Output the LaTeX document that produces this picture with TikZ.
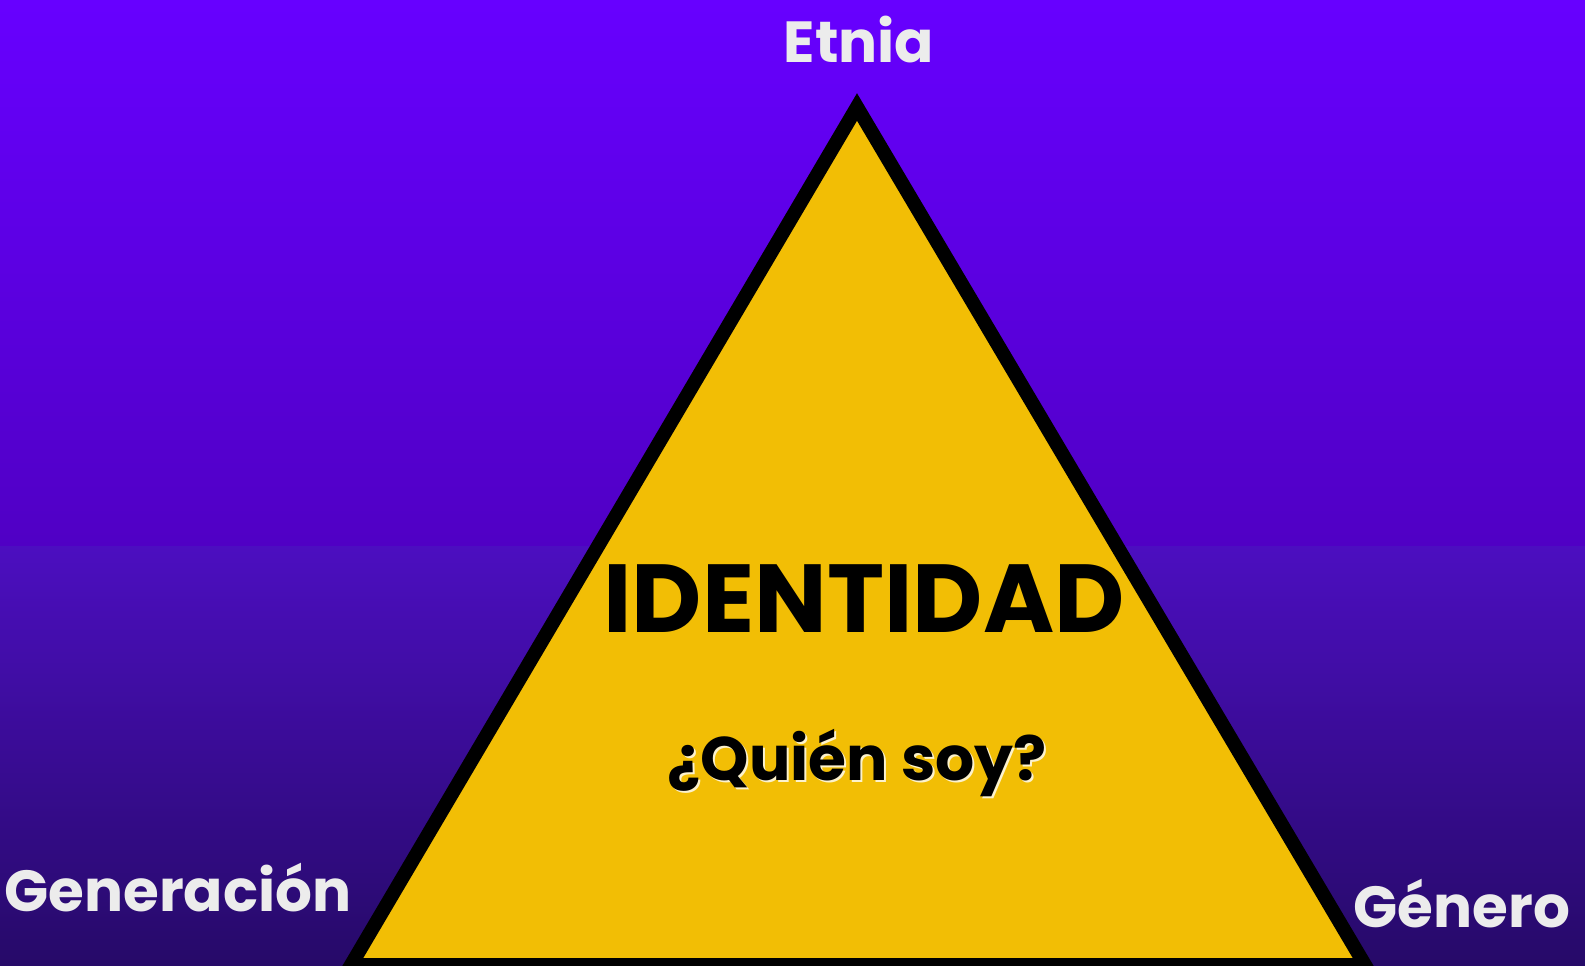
\documentclass[tikz,border=0pt]{standalone}
\usepackage{fontspec}
\setmainfont{Poppins}

\definecolor{skytop}{RGB}{103,0,255}
\definecolor{skymid}{RGB}{80,0,196}
\definecolor{seatop}{RGB}{76,14,192}
\definecolor{seabot}{RGB}{38,10,104}
\definecolor{pyryellow}{RGB}{242,190,5}
\definecolor{labelwhite}{RGB}{236,236,236}

\tikzset{
  corner/.style={text=labelwhite,font=\fontsize{33}{37}\selectfont\bfseries},
  question/.style={font=\fontsize{35}{39}\selectfont\bfseries},
  core/.style={font=\fontsize{55}{60}\selectfont\bfseries},
}

\begin{document}
\begin{tikzpicture}[x=0.02cm,y=-0.02cm]
      \useasboundingbox (0,0) rectangle (1585,966);
      % background
      \shade[top color=skytop,bottom color=skymid] (0,0) rectangle (1585,546);
      \shade[top color=seatop,bottom color=seabot] (0,546) rectangle (1585,966);

      % pyramid
      \coordinate (apex) at (857,107);
      \coordinate (left) at (351,965);
      \coordinate (right) at (1365,965);
      \draw[line width=0.28cm,line join=miter,fill=pyryellow] (apex) -- (left) -- (right) -- cycle;

      \node[corner] (etnia) at (859,40){Etnia};
      \node[corner] (generacion) at (178,888){Generación};
      \node[corner] (genero) at (1462,904){Género};

      \node[core] (identidad) at (864,599){IDENTIDAD};
      \node[question,text=white,opacity=.8] (shadow) at (859,765){¿Quién soy?};
      \node[question,text=black] (quien) at (857,763){¿Quién soy?};
    \end{tikzpicture}
\end{document}
